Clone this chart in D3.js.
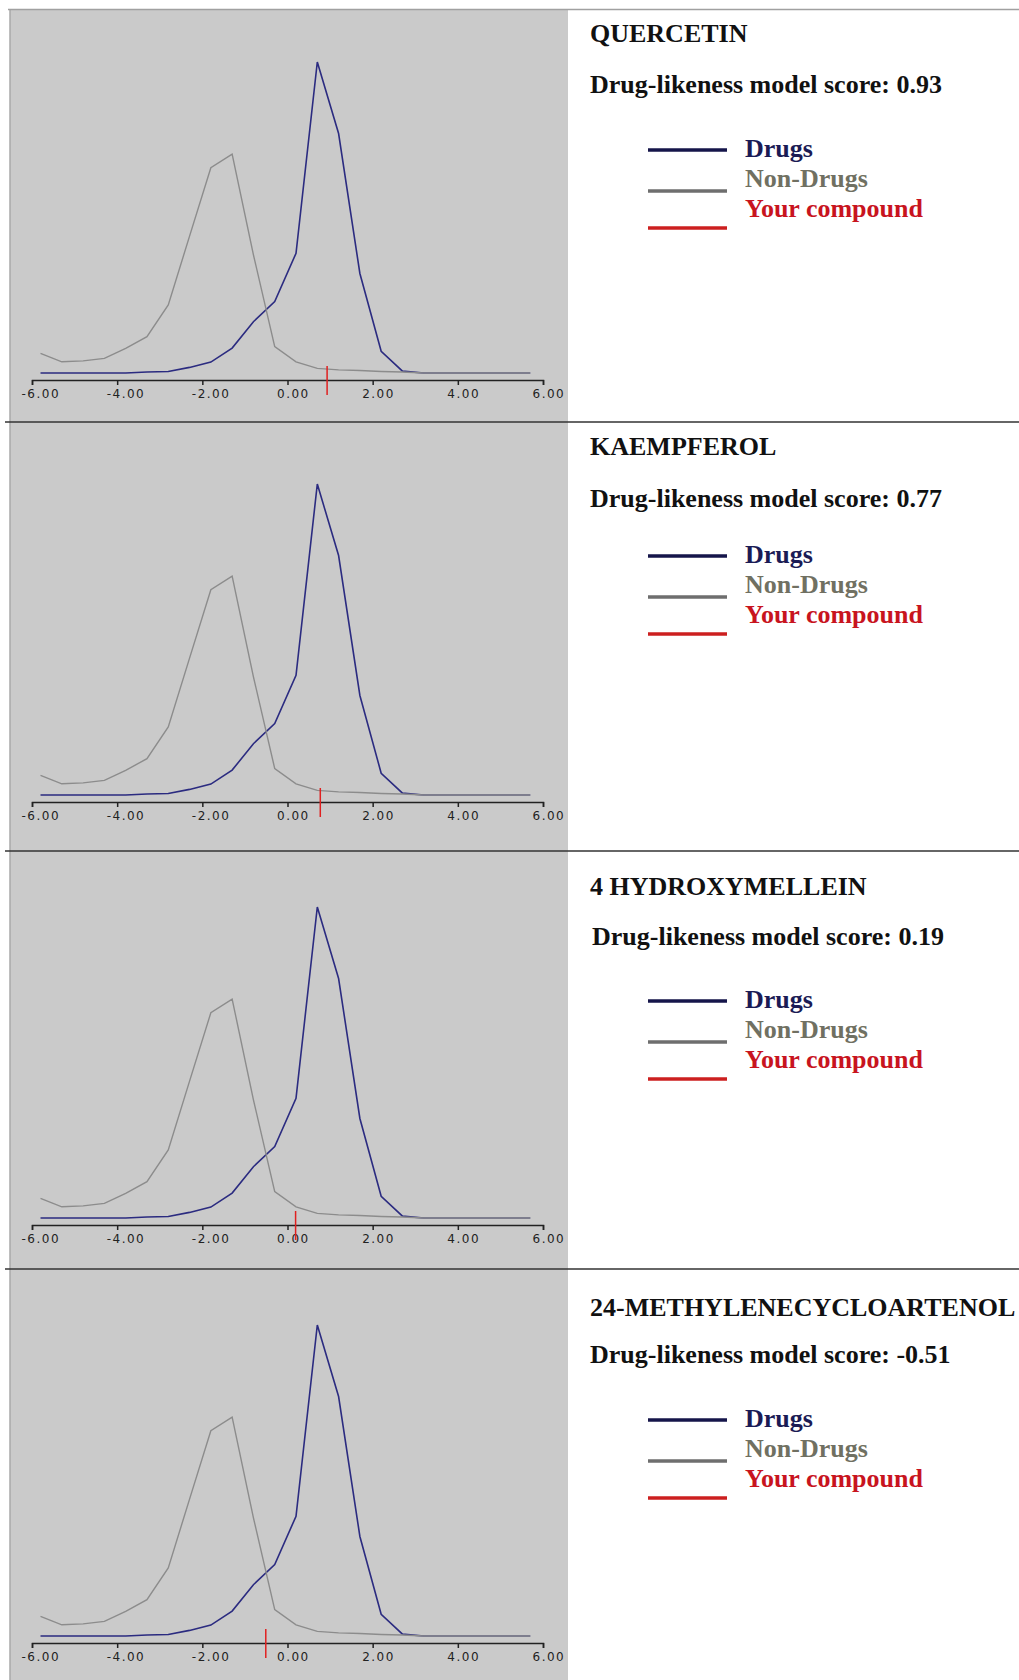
<!DOCTYPE html>
<html>
<head>
<meta charset="utf-8">
<script src="https://cdn.jsdelivr.net/npm/d3@7"></script>
<style>
	body { margin: 0; background: #fff; }
	.axis text { font-family: 'DejaVu Sans', sans-serif; font-size: 12px; letter-spacing: 1.5px; fill: #222; }
	.axis path, .axis line { stroke: #222; stroke-width: 1.5; }
	.side text { font-family: 'Liberation Serif', 'Times New Roman', serif; font-weight: bold; font-size: 26px; }
</style>
</head>
<body>
<div id="chart"></div>
<script>
/*

*	Data (same distributions in every panel)

*/
const binCentres = [-5.8, -5.3, -4.8, -4.3, -3.8, -3.3, -2.8, -2.3, -1.8, -1.3, -0.8, -0.3, 0.2, 0.7, 1.2, 1.7, 2.2, 2.7, 3.2, 3.7, 4.2, 4.7, 5.2, 5.7];
const drugFreq = [0, 0, 0, 0, 0, 0.3, 0.5, 1.8, 3.5, 8, 16.5, 23, 38.5, 100, 77, 32, 7, 0.6, 0, 0, 0, 0, 0, 0];
const nonDrugFreq = [6.3, 3.6, 3.9, 4.7, 7.9, 11.7, 21.9, 44, 66, 70.4, 38, 8.5, 3.6, 1.5, 1.0, 0.8, 0.5, 0.3, 0, 0, 0, 0, 0, 0];

const compounds = ['QUERCETIN', 'KAEMPFEROL', '4 HYDROXYMELLEIN', '24-METHYLENECYCLOARTENOL'];
const scores = [0.93, 0.77, 0.19, -0.51];

const tickValues = [-6, -4, -2, 0, 2, 4, 6];
const legendLabels = ['Drugs', 'Non-Drugs', 'Your compound'];

/*

*	Layout (the panels are stacked screenshots, so spacing drifts a little)

*/
var chartOffsets = [0, 422, 845, 1263];
var titleY = [42, 455, 895, 1316];
var scoreY = [93, 507, 945, 1363];
var scoreX = [590, 590, 592, 590];
var legendOffsets = [1, 407, 852, 1271];
var separators = [422, 851, 1269];
var axisY = 380;

var x = d3.scaleLinear().domain([-6, 6]).range([32, 543]);
var y = d3.scaleLinear().domain([0, 100]).range([373, 62]);

var line = d3
	.line()
	.x(function (d, i) {
		return x(binCentres[i]);
	})
	.y(function (d) {
		return y(d);
	});

var svg = d3.select('#chart').append('svg').attr('width', 1019).attr('height', 1680);

svg.append('rect').attr('x', 10).attr('y', 10).attr('width', 558).attr('height', 1670).attr('fill', '#cacaca');
svg.append('line').attr('x1', 10).attr('x2', 10).attr('y1', 10).attr('y2', 1680).attr('stroke', '#a8a8a8').attr('stroke-width', 1.5);
svg.append('line').attr('x1', 8).attr('x2', 1019).attr('y1', 9.5).attr('y2', 9.5).attr('stroke', '#a0a0a0').attr('stroke-width', 1.5);

separators.forEach(function (s) {
	svg.append('line').attr('x1', 5).attr('x2', 1019).attr('y1', s).attr('y2', s).attr('stroke', '#333').attr('stroke-width', 1.5);
});

var legendColours = ['#15154a', '#6e6e6e', '#cc1f1f'];
var legendTextColours = ['#1b1b55', '#707062', '#c8141e'];
var legendLineY = [149, 190, 227];
var legendTextY = [156, 186, 216];

compounds.forEach(function (name, p) {
	var g = svg.append('g').attr('transform', 'translate(0,' + chartOffsets[p] + ')');

	g.append('path')
		.datum(drugFreq)
		.attr('d', line)
		.attr('fill', 'none')
		.attr('stroke', '#2b2b80')
		.attr('stroke-width', 1.6);

	g.append('path')
		.datum(nonDrugFreq)
		.attr('d', line)
		.attr('fill', 'none')
		.attr('stroke', '#8c8c8c')
		.attr('stroke-width', 1.4);

	var axis = g
		.append('g')
		.attr('class', 'axis')
		.attr('transform', 'translate(0,' + axisY + ')')
		.call(
			d3
				.axisBottom(x)
				.tickValues(tickValues)
				.tickSize(5)
				.tickFormat(function (d) {
					return d.toFixed(2);
				})
		);
	axis.selectAll('text').attr('text-anchor', 'start').attr('x', -11).attr('y', 9.5);

	// your compound marker
	g.append('line')
		.attr('x1', x(scores[p]))
		.attr('x2', x(scores[p]))
		.attr('y1', axisY - 14)
		.attr('y2', axisY + 15)
		.attr('stroke', '#e02020')
		.attr('stroke-width', 1.5);

	var side = svg.append('g').attr('class', 'side');

	side.append('text').attr('x', 590).attr('y', titleY[p]).attr('fill', '#111').text(name);
	side.append('text')
		.attr('x', scoreX[p])
		.attr('y', scoreY[p])
		.attr('fill', '#111')
		.text('Drug-likeness model score: ' + scores[p].toFixed(2));

	var legend = side.append('g').attr('transform', 'translate(0,' + legendOffsets[p] + ')');
	legendLabels.forEach(function (l, i) {
		legend
			.append('line')
			.attr('x1', 648)
			.attr('x2', 727)
			.attr('y1', legendLineY[i])
			.attr('y2', legendLineY[i])
			.attr('stroke', legendColours[i])
			.attr('stroke-width', 3.5);
		legend.append('text').attr('x', 745).attr('y', legendTextY[i]).attr('fill', legendTextColours[i]).text(l);
	});
});
</script>
</body>
</html>
